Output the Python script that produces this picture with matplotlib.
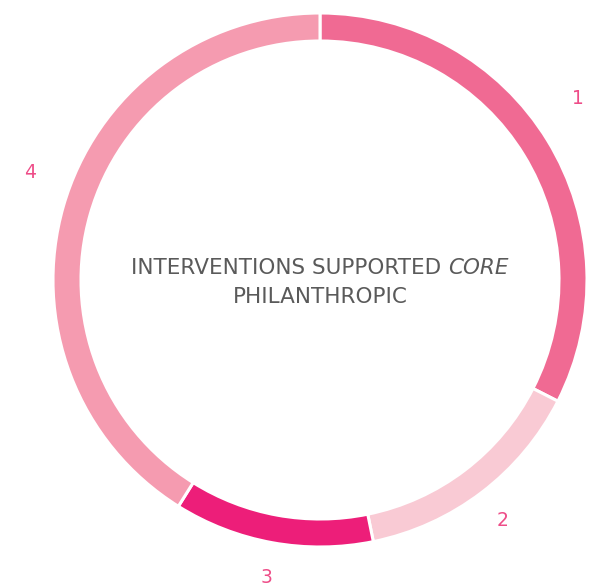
import matplotlib
matplotlib.use("Agg")
import matplotlib.pyplot as plt
import numpy as np

labels = ["1", "2", "3", "4"]
shares = [32.5, 14.3, 12.1, 41.1]
colors = ["#F06A93", "#F9CAD4", "#ED1E79", "#F59BB0"]
title_main = "INTERVENTIONS SUPPORTED "
title_em = "CORE"
title_line2 = "PHILANTHROPIC"

plt.rcParams["font.family"] = ["DejaVu Sans"]

W, H = 595, 588
cx, cy = 320, 280
R = 267
ring = 28

fig = plt.figure(figsize=(W / 100, H / 100), dpi=100)
ax = fig.add_axes([0, 0, 1, 1])

wedges, _ = ax.pie(shares, colors=colors, radius=R, startangle=90, counterclock=False,
                   wedgeprops=dict(width=ring, edgecolor="white", linewidth=2.2))

# pie() resets the limits, so work in pixel units afterwards
ax.set_xlim(-cx, W - cx)
ax.set_ylim(-(H - cy), cy)
ax.set_aspect("equal")
ax.axis("off")

# segment numbers sit outside the ring at each wedge's mid-angle,
# nudged further up when they are on the top half
for w, lab in zip(wedges, labels):
    mid = np.deg2rad((w.theta1 + w.theta2) / 2)
    r = 302
    lift = 24 if np.sin(mid) > 0 else 0
    ax.text(r * np.cos(mid), r * np.sin(mid) + lift, lab, ha="center", va="center",
            fontsize=13.5, color="#EE4D88")

# centre caption, with the italic word appended to the first line
txt = dict(fontsize=15.5, color="#5a5a5a")
t1 = ax.text(0, 12, title_main, ha="left", va="center", **txt)
t2 = ax.annotate(title_em, xy=(1, 0), xycoords=t1, ha="left", va="bottom",
                 style="italic", **txt)
ax.text(0, -17, title_line2, ha="center", va="center", **txt)

fig.canvas.draw()
r = fig.canvas.get_renderer()
b1 = t1.get_window_extent(r)
b2 = t2.get_window_extent(r)
total = b2.x1 - b1.x0
t1.set_x(-total / 2)

fig.savefig("out.png", dpi=100, facecolor="white")
